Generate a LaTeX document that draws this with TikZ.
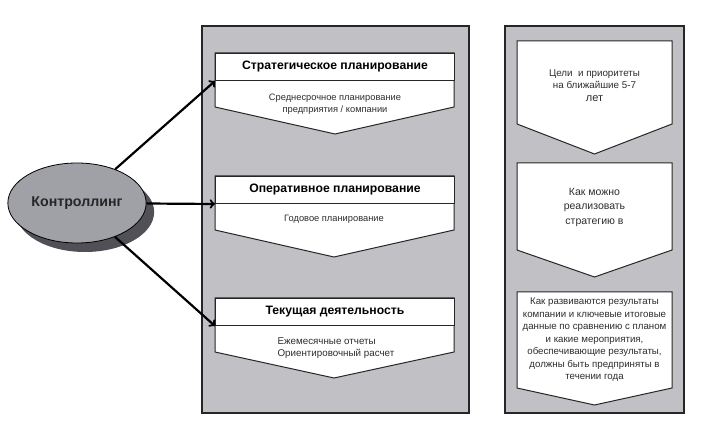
\documentclass[tikz,border=0pt]{standalone}
\usepackage{fontspec}
\setmainfont{Liberation Sans}
\usetikzlibrary{shapes.geometric,shadows}
\definecolor{panelgray}{RGB}{192,192,197}
\definecolor{ovalgray}{RGB}{160,160,167}
\definecolor{shadowgray}{RGB}{80,80,86}
\definecolor{textgray}{RGB}{45,45,45}
\tikzset{
	panel/.style={draw=black!85, line width=1.4pt, fill=panelgray},
	chevron/.style={draw=black!85, line width=1pt, fill=white},
	headbox/.style={draw=black!85, line width=1pt, fill=white, minimum width=239pt, minimum height=27pt, inner sep=0pt, anchor=north west, font=\bfseries\fontsize{12.2}{14}\selectfont},
	note/.style={align=center, text=textgray, font=\fontsize{9.3}{11.5}\selectfont},
	link/.style={->, line width=2.2pt},
}
\begin{document}
\begin{tikzpicture}[x=1pt,y=-1pt]
	\useasboundingbox (0,0) rectangle (707,435);
	% the two gray panels
	\draw[panel] (202,26) rectangle (469,413);
	\draw[panel] (505,26) rectangle (684,413);

	% left column
	\draw[chevron] (215,53) -- (454,53) -- (454,107) -- (335,134) -- (215,107) -- cycle;
	\node[headbox] (strat) at (215,53) {Стратегическое планирование};
	\node[note] (stratnote) at (335,104) {Среднесрочное планирование\\предприятия / компании};

	\draw[chevron] (215,176) -- (454,176) -- (454,230) -- (334,257) -- (215,230) -- cycle;
	\node[headbox] (oper) at (215,176) {Оперативное планирование};
	\node[note] (opernote) at (334,219) {Годовое планирование};

	\draw[chevron] (215,298) -- (454,298) -- (454,352) -- (334,378) -- (215,352) -- cycle;
	\node[headbox] (curr) at (215,298) {Текущая деятельность};
	\node[note, align=left, anchor=west, font=\fontsize{9.8}{12.5}\selectfont] (currnote) at (274,348) {Ежемесячные отчеты\\Ориентировочный расчет};

	% right column
	\draw[chevron] (517,41) -- (672,41) -- (672,124) -- (594.5,154) -- (517,124) -- cycle;
	\node[note, font=\fontsize{9.8}{12}\selectfont] (goals) at (594.5,86) {Цели~~и приоритеты\\на ближайшие 5-7\\[1pt]{\fontsize{11}{13}\selectfont лет}};

	\draw[chevron] (517,163) -- (672,163) -- (672,250) -- (594.5,277) -- (517,250) -- cycle;
	\node[note, font=\fontsize{10.5}{14.5}\selectfont] (howto) at (594.5,207) {Как можно\\реализовать\\стратегию в};

	\draw[chevron] (517,292) -- (672,292) -- (672,388) -- (594.5,405) -- (517,388) -- cycle;
	\node[note, font=\fontsize{9.7}{12.5}\selectfont] (results) at (594.5,340) {Как развиваются результаты\\компании и ключевые итоговые\\данные по сравнению с планом\\и какие мероприятия,\\обеспечивающие результаты,\\должны быть предприняты в\\течении года};

	% controlling oval and arrows
	\node[ellipse, draw=black, line width=0.8pt, fill=ovalgray, minimum width=125pt, minimum height=80pt,
		drop shadow={shadow xshift=8pt, shadow yshift=-9pt, fill=shadowgray, opacity=1},
		text=black!85, font=\bfseries\fontsize{14.2}{16}\selectfont] (ctrl) at (77,203) {Контроллинг};
	\draw[link] (ctrl) -- (strat.south west);
	\draw[link] (ctrl) -- (oper.south west);
	\draw[link] (ctrl) -- (curr.south west);
\end{tikzpicture}
\end{document}
